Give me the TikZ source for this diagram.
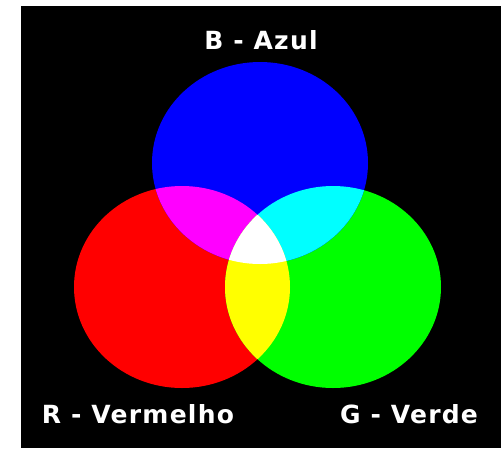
\documentclass[tikz,border=0pt]{standalone}
\usepackage{fontspec}
\newfontfamily\lblfont[LetterSpace=5]{DejaVu Sans}
\definecolor{pR}{RGB}{255,0,0}
\definecolor{pG}{RGB}{0,255,0}
\definecolor{pB}{RGB}{0,0,255}
\definecolor{pM}{RGB}{255,0,255}
\definecolor{pC}{RGB}{0,255,255}
\definecolor{pY}{RGB}{255,255,0}
\definecolor{pW}{RGB}{255,255,255}
\begin{document}
\begin{tikzpicture}[x=1pt,y=-1pt,
  lbl/.style={text=white,font=\lblfont\bfseries\fontsize{25}{30}\selectfont,anchor=base,inner sep=0pt}]
\useasboundingbox (0,0) rectangle (504,448);
\fill[black] (21,6) rectangle (501,448);
% circles
\def\Rc{(182,287) ellipse [x radius=108, y radius=101]}
\def\Gc{(333,287) ellipse [x radius=108, y radius=101]}
\def\Bc{(260,163) ellipse [x radius=108, y radius=101]}
\fill[pR] \Rc;
\fill[pG] \Gc;
\fill[pB] \Bc;
\begin{scope}\clip \Rc; \fill[pM] \Bc; \end{scope}
\begin{scope}\clip \Gc; \fill[pC] \Bc; \end{scope}
\begin{scope}\clip \Rc; \fill[pY] \Gc; \end{scope}
\begin{scope}\clip \Rc; \clip \Gc; \fill[pW] \Bc; \end{scope}
\node[lbl] (b) at (261,49) {B - Azul};
\node[lbl] (r) at (138,423) {R - Vermelho};
\node[lbl] (g) at (409,423) {G - Verde};
\end{tikzpicture}
\end{document}
